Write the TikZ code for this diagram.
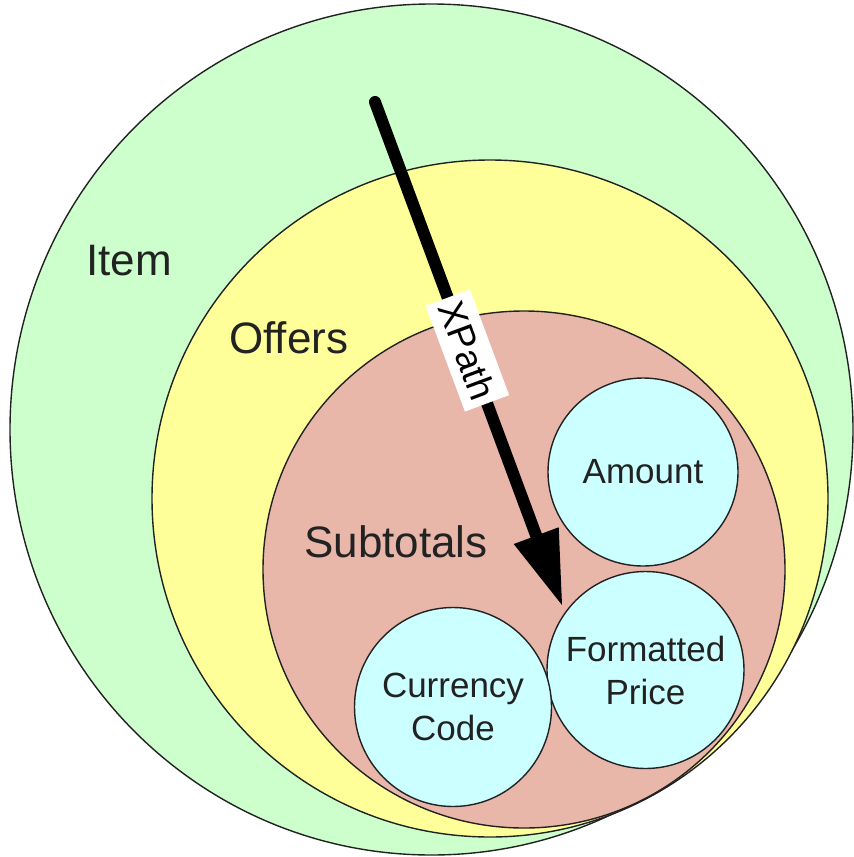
\documentclass[tikz,border=0pt]{standalone}
\usepackage{fontspec}
\setmainfont{Liberation Sans}
\usetikzlibrary{shapes.geometric, calc}
\definecolor{itemgreen}{HTML}{CCFFCC}
\definecolor{offeryellow}{HTML}{FFFF99}
\definecolor{subsalmon}{HTML}{E9B6AA}
\definecolor{leafcyan}{HTML}{CCFFFF}
\definecolor{ink}{HTML}{222222}
\begin{document}
\begin{tikzpicture}[x=1pt, y=-1pt,
  ring/.style={ellipse, draw=ink, line width=1.4pt, inner sep=0pt},
  biglabel/.style={font=\fontsize{44}{50}\selectfont, text=ink, inner sep=0pt, anchor=base west},
  leaf/.style={ring, fill=leafcyan},
  leaftext/.style={font=\fontsize{35}{43}\selectfont, text=ink, align=center, inner sep=0pt},
  xpathlabel/.style={fill=white, font=\fontsize{37}{40}\selectfont, text=black, inner xsep=6pt, inner ysep=10pt}
]
\fill[white] (0,0) rectangle (854,857);
\useasboundingbox (0,0) rectangle (854,857);

% nested sets
\node[ring, fill=itemgreen, minimum width=843pt, minimum height=851pt] (item) at (431.5,429.5) {};
\node[ring, fill=offeryellow, minimum width=676pt, minimum height=677pt] (offers) at (490,498.5) {};
\node[ring, fill=subsalmon, minimum width=522pt, minimum height=517pt] (subtotals) at (524,569.5) {};

% leaf elements
\node[leaf, minimum width=190pt, minimum height=188pt] (amount) at (643,472) {};
\node[leaf, minimum width=197pt, minimum height=197pt] (fprice) at (645.5,670) {};
\node[leaf, minimum width=197pt, minimum height=199pt] (ccode) at (453,707) {};

\node[leaftext] (amountt) at (amount.center) {Amount};
\node[leaftext] (fpricet) at (fprice.center) {Formatted\\Price};
\node[leaftext] (ccodet) at (ccode.center) {Currency\\Code};

% labels of the sets
\node[biglabel] (itemt) at (86,275) {Item};
\node[biglabel] (offerst) at (229,353) {Offers};
\node[biglabel] (subtotalst) at (304,557) {Subtotals};

% XPath arrow
\coordinate (xstart) at (375,102);
\coordinate (xtip) at (562,605);
\coordinate (xbase) at ($(xtip)!74pt!(xstart)$);
\coordinate (xshaft) at ($(xtip)!68pt!(xstart)$);
\draw[line width=12pt, line cap=round, black] (xstart) -- (xshaft);
\fill[black] (xtip) -- ($(xbase)!24pt!90:(xtip)$) -- ($(xbase)!24pt!-90:(xtip)$) -- cycle;
\node[xpathlabel, rotate=-69.6] (xpath) at ($(xstart)!0.494!(xtip)$) {XPath};
\end{tikzpicture}
\end{document}
